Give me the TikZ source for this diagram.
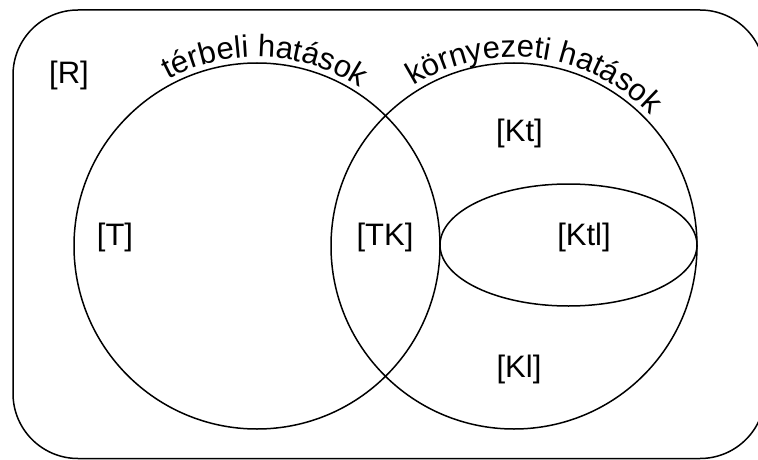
\documentclass[tikz,border=0pt]{standalone}
\usepackage{fontspec}
\setmainfont{Liberation Sans}
\usetikzlibrary{shapes.geometric,decorations.text}
\newcommand{\arcfont}{\fontsize{31}{36}\selectfont}
\begin{document}
\begin{tikzpicture}[x=1pt,y=1pt,line width=1.5pt,
  lbl/.style={font=\fontsize{31}{36}\selectfont,inner sep=0pt},
  setc/.style={circle,draw,minimum size=366pt,inner sep=0pt},
  arclabel/.style={decorate,decoration={text along path,text align=center,text={#1}}}]
\useasboundingbox (0,0) rectangle (758,459);
% universe
\draw[rounded corners=65pt] (13,0.5) rectangle (765,449);
% the two main sets and the inner ellipse
\node[setc] (T) at (257,213) {};
\node[setc] (K) at (514,213) {};
\node[ellipse,draw,minimum width=257pt,minimum height=122pt,inner sep=0pt] (E) at (568.5,214) {};
% curved set names
\path[arclabel={|\arcfont|térbeli hatások}]
  (257,213) ++(150:189pt) arc[start angle=150,end angle=25,radius=189pt];
\path[arclabel={|\arcfont|környezeti hatások}]
  (514,213) ++(146:189pt) arc[start angle=146,end angle=20,radius=189pt];
% region labels
\node[lbl] (R) at (69,384) {[R]};
\node[lbl] (t) at (115,222) {[T]};
\node[lbl] (tk) at (385,222) {[TK]};
\node[lbl] (kt) at (519.5,326) {[Kt]};
\node[lbl] (ktl) at (584,222) {[Ktl]};
\node[lbl] (kl) at (519,89.5) {[Kl]};
\end{tikzpicture}
\end{document}
